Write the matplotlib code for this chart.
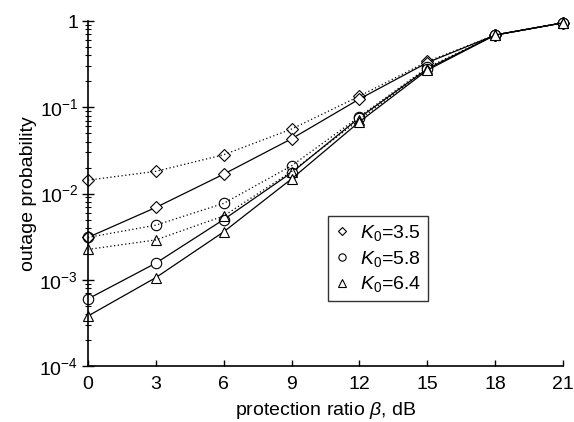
import numpy as np
import matplotlib
matplotlib.use("Agg")
import matplotlib.pyplot as plt
from matplotlib.ticker import FixedLocator, FixedFormatter, LogLocator, NullFormatter

plt.rcParams['font.family'] = ['Liberation Sans', 'DejaVu Sans']
plt.rcParams['mathtext.fontset'] = 'custom'
plt.rcParams['mathtext.rm'] = 'Liberation Sans'
plt.rcParams['mathtext.it'] = 'Liberation Sans:italic'

# ---------------------- data ----------------------
beta_db = [0, 3, 6, 9, 12, 15, 18, 21]

# dotted curves
k35_dot = [0.0143, 0.0181, 0.0282, 0.056, 0.135, 0.34, 0.69, 0.955]
k58_dot = [0.0031, 0.0043, 0.0077, 0.021, 0.078, 0.29, 0.69, 0.955]
k64_dot = [0.00225, 0.0029, 0.0055, 0.018, 0.072, 0.28, 0.69, 0.955]
# solid curves
k35_sol = [0.0031, 0.0069, 0.0168, 0.0432, 0.125, 0.33, 0.69, 0.955]
k58_sol = [0.0006, 0.00156, 0.0050, 0.0175, 0.076, 0.28, 0.69, 0.955]
k64_sol = [0.00038, 0.00106, 0.0036, 0.0148, 0.068, 0.27, 0.69, 0.955]

labels = ['$K_0$=3.5', '$K_0$=5.8', '$K_0$=6.4']
markers = ['D', 'o', '^']
msizes = [6, 7.5, 7.5]

# ---------------------- plot ----------------------
fig = plt.figure(figsize=(5.74, 4.22), dpi=100)
ax = fig.add_axes([0.1533, 0.1327, 0.8277, 0.8173])

dotted = [k35_dot, k58_dot, k64_dot]
solid = [k35_sol, k58_sol, k64_sol]
for i in range(3):
    ax.plot(beta_db, dotted[i], linestyle=(0, (1, 2)), color='black', lw=0.9,
            marker=markers[i], ms=msizes[i], mfc='none', mec='black', mew=0.8,
            clip_on=False)
    ax.plot(beta_db, solid[i], linestyle='-', color='black', lw=0.9,
            marker=markers[i], ms=msizes[i], mfc='white', mec='black', mew=0.8,
            clip_on=False)

# legend handles (markers only)
handles = []
for i in range(3):
    h, = ax.plot([], [], linestyle='none', marker=markers[i], ms=msizes[i] * 0.7,
                 mfc='white', mec='black', mew=0.8)
    handles.append(h)
leg = ax.legend(handles, labels, loc='upper left', bbox_to_anchor=(0.505, 0.435),
                fontsize=14, frameon=True, fancybox=False, edgecolor='black',
                handlelength=0.7, handletextpad=0.6, labelspacing=0.3,
                borderpad=0.35, borderaxespad=0)
leg.get_frame().set_linewidth(1.0)

ax.set_yscale('log')
ax.set_xlim(0, 21)
ax.set_ylim(1e-4, 1)
ax.xaxis.set_major_locator(FixedLocator(beta_db))
ax.yaxis.set_major_locator(FixedLocator([1e-4, 1e-3, 1e-2, 1e-1, 1]))
ax.yaxis.set_major_formatter(FixedFormatter(['$10^{-4}$', '$10^{-3}$', '$10^{-2}$', '$10^{-1}$', '1']))
ax.yaxis.set_minor_locator(LogLocator(base=10, subs=np.arange(2, 10), numticks=20))
ax.yaxis.set_minor_formatter(NullFormatter())

ax.spines['top'].set_visible(False)
ax.spines['right'].set_visible(False)
ax.spines['left'].set_linewidth(1.2)
ax.spines['bottom'].set_linewidth(1.2)
ax.tick_params(axis='x', direction='in', length=4, width=1, labelsize=14, pad=7)
ax.tick_params(axis='y', which='major', direction='inout', length=8, width=1, labelsize=14, pad=3)
ax.tick_params(axis='y', which='minor', direction='inout', length=5, width=0.8)

ax.set_xlabel('protection ratio $\\beta$, dB', fontsize=14, labelpad=5)
ax.set_ylabel('outage probability', fontsize=14, labelpad=2)

fig.savefig('out.png', dpi=100)
